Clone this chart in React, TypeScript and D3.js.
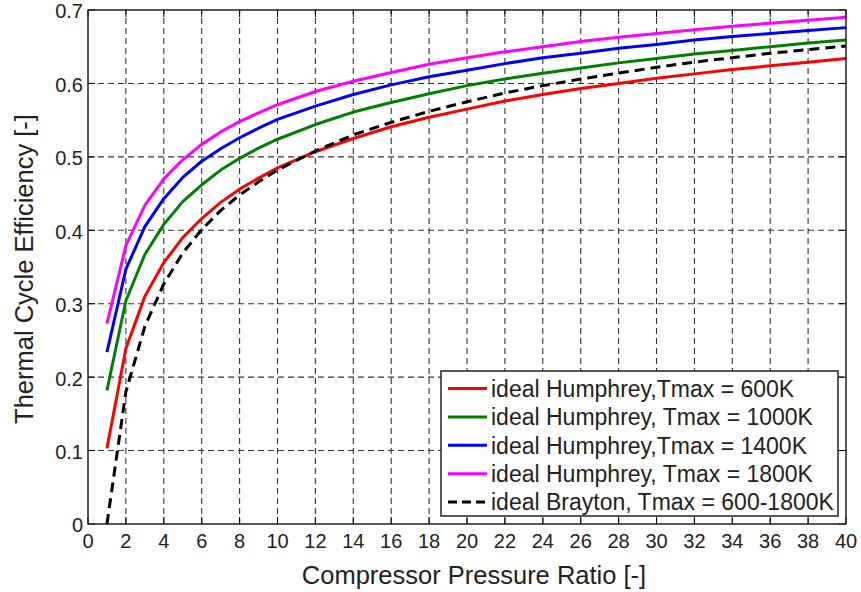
import React from "react";
import * as d3 from "d3";

const pressureRatio = [1, 2, 3, 4, 5, 6, 7, 8, 9, 10, 12, 14, 16, 18, 20, 22, 24, 26, 28, 30, 32, 34, 36, 38, 40];
const etaHumphrey600 = [0.103, 0.239, 0.310, 0.356, 0.390, 0.416, 0.438, 0.456, 0.471, 0.485, 0.507, 0.525, 0.541, 0.554, 0.565, 0.576, 0.585, 0.593, 0.600, 0.607, 0.613, 0.619, 0.624, 0.629, 0.634];
const etaHumphrey1000 = [0.182, 0.304, 0.367, 0.408, 0.439, 0.462, 0.482, 0.498, 0.512, 0.524, 0.544, 0.561, 0.574, 0.586, 0.597, 0.606, 0.614, 0.621, 0.628, 0.634, 0.640, 0.645, 0.650, 0.655, 0.659];
const etaHumphrey1400 = [0.234, 0.347, 0.405, 0.443, 0.472, 0.494, 0.511, 0.526, 0.539, 0.551, 0.569, 0.585, 0.598, 0.609, 0.618, 0.627, 0.635, 0.641, 0.648, 0.653, 0.659, 0.664, 0.668, 0.672, 0.676];
const etaHumphrey1800 = [0.273, 0.379, 0.434, 0.470, 0.496, 0.517, 0.534, 0.548, 0.560, 0.571, 0.589, 0.603, 0.615, 0.626, 0.635, 0.643, 0.650, 0.657, 0.663, 0.668, 0.673, 0.678, 0.682, 0.686, 0.690];
const etaBrayton = [0, 0.180, 0.269, 0.327, 0.369, 0.401, 0.427, 0.448, 0.466, 0.482, 0.508, 0.530, 0.547, 0.562, 0.575, 0.587, 0.597, 0.606, 0.614, 0.622, 0.629, 0.635, 0.641, 0.646, 0.651];

const xTicks = d3.range(0, 41, 2);
const yTicks = [0, 0.1, 0.2, 0.3, 0.4, 0.5, 0.6, 0.7];
const yTickLabels = ["0", "0.1", "0.2", "0.3", "0.4", "0.5", "0.6", "0.7"];

const seriesNames = [
  "ideal Humphrey,Tmax = 600K",
  "ideal Humphrey, Tmax = 1000K",
  "ideal Humphrey,Tmax = 1400K",
  "ideal Humphrey, Tmax = 1800K",
  "ideal Brayton, Tmax = 600-1800K",
];
const seriesValues = [etaHumphrey600, etaHumphrey1000, etaHumphrey1400, etaHumphrey1800, etaBrayton];
const seriesColors = ["#ff0000", "#008000", "#0000ff", "#ff00ff", "#000000"];
const seriesDashed = [false, false, false, false, true];

const W = 861;
const H = 592;
const M = { left: 88, top: 10, right: 846, bottom: 524 };
const FONT = "'Liberation Sans', Arial, sans-serif";

export default function App() {
  const x = d3.scaleLinear().domain([0, 40]).range([M.left, M.right]);
  const y = d3.scaleLinear().domain([0, 0.7]).range([M.bottom, M.top]);
  const line = d3
    .line<number>()
    .x((_, i) => x(pressureRatio[i]))
    .y((d) => y(d));

  const tickLen = 7;
  const legend = { x: 441, y: 371, w: 397, h: 145 };
  const rowH = 28.4;

  return (
    <svg width={W} height={H} style={{ position: "absolute", left: 0, top: 0, background: "#fff" }} fontFamily={FONT}>
      <rect x={0} y={0} width={W} height={H} fill="#fff" />
      {/* grid */}
      <g stroke="#333" strokeWidth={1.1} strokeDasharray="6,4" fill="none">
        {xTicks.slice(1, -1).map((t) => (
          <line key={"gx" + t} x1={x(t)} x2={x(t)} y1={M.bottom} y2={M.top} />
        ))}
        {yTicks.slice(1, -1).map((t) => (
          <line key={"gy" + t} x1={M.left} x2={M.right} y1={y(t)} y2={y(t)} />
        ))}
      </g>
      {/* series */}
      <g fill="none">
        {seriesValues.map((vals, i) => (
          <path
            key={seriesNames[i]}
            d={line(vals) || ""}
            stroke={seriesColors[i]}
            strokeWidth={3}
            strokeDasharray={seriesDashed[i] ? "10,6" : undefined}
            strokeLinejoin="round"
          />
        ))}
      </g>
      {/* ticks */}
      <g stroke="#000" strokeWidth={1}>
        {xTicks.map((t) => (
          <g key={"tx" + t}>
            <line x1={x(t)} x2={x(t)} y1={M.bottom} y2={M.bottom - tickLen} />
            <line x1={x(t)} x2={x(t)} y1={M.top} y2={M.top + tickLen} />
          </g>
        ))}
        {yTicks.map((t) => (
          <g key={"ty" + t}>
            <line x1={M.left} x2={M.left + tickLen} y1={y(t)} y2={y(t)} />
            <line x1={M.right} x2={M.right - tickLen} y1={y(t)} y2={y(t)} />
          </g>
        ))}
      </g>
      {/* legend */}
      <g>
        <rect x={legend.x} y={legend.y} width={legend.w} height={legend.h} fill="#fff" stroke="#222" strokeWidth={1.5} />
        {seriesNames.map((name, i) => {
          const cy = legend.y + 17.5 + i * rowH;
          return (
            <g key={"lg" + i}>
              <line
                x1={legend.x + 7}
                x2={legend.x + 46}
                y1={cy}
                y2={cy}
                stroke={seriesColors[i]}
                strokeWidth={3}
                strokeDasharray={seriesDashed[i] ? "9,5" : undefined}
              />
              <text x={legend.x + 50} y={cy} dy="0.36em" fontSize={23} fill="#222">
                {name}
              </text>
            </g>
          );
        })}
      </g>
      {/* frame */}
      <rect x={M.left} y={M.top} width={M.right - M.left} height={M.bottom - M.top} fill="none" stroke="#222" strokeWidth={1.5} />
      {/* tick labels */}
      <g fill="#222">
        {xTicks.map((t) => (
          <text key={"lx" + t} x={x(t)} y={548} textAnchor="middle" fontSize={20}>
            {String(t)}
          </text>
        ))}
        {yTicks.map((t, i) => (
          <text key={"ly" + t} x={83} y={y(t)} dy="0.42em" textAnchor="end" fontSize={20}>
            {yTickLabels[i]}
          </text>
        ))}
      </g>
      {/* axis titles */}
      <text x={474} y={584} textAnchor="middle" fontSize={25.5} fill="#222">
        Compressor Pressure Ratio [-]
      </text>
      <text transform={`translate(33,269) rotate(-90)`} textAnchor="middle" fontSize={25.5} fill="#222">
        Thermal Cycle Efficiency [-]
      </text>
    </svg>
  );
}
